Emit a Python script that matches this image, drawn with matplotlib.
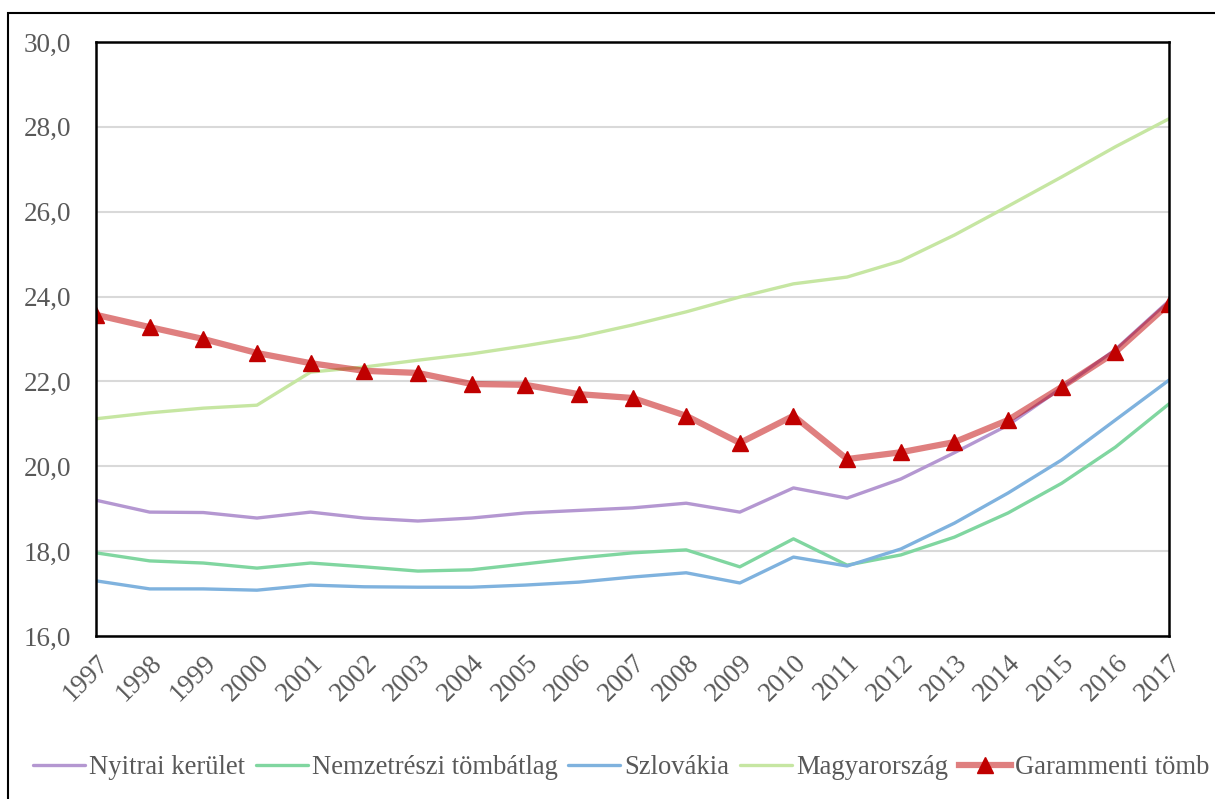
import matplotlib.pyplot as plt
from matplotlib.patches import Rectangle

years = list(range(1997, 2018))

nyitrai = [19.20, 18.92, 18.91, 18.78, 18.92, 18.78, 18.71, 18.78, 18.90, 18.96, 19.02,
           19.13, 18.92, 19.49, 19.25, 19.70, 20.32, 20.97, 21.85, 22.75, 23.90]
nemzet = [17.96, 17.77, 17.72, 17.60, 17.72, 17.63, 17.53, 17.56, 17.70, 17.84, 17.96,
          18.03, 17.63, 18.29, 17.67, 17.91, 18.33, 18.90, 19.60, 20.45, 21.47]
szlovakia = [17.30, 17.11, 17.11, 17.08, 17.20, 17.16, 17.15, 17.15, 17.20, 17.27, 17.39,
             17.49, 17.25, 17.86, 17.65, 18.05, 18.66, 19.37, 20.15, 21.09, 22.03]
magyar = [21.12, 21.26, 21.37, 21.44, 22.22, 22.34, 22.50, 22.65, 22.84, 23.05, 23.33,
          23.64, 23.99, 24.30, 24.46, 24.84, 25.45, 26.13, 26.82, 27.53, 28.19]
garam = [23.57, 23.28, 23.00, 22.67, 22.43, 22.25, 22.20, 21.94, 21.92, 21.70, 21.61,
         21.19, 20.55, 21.19, 20.17, 20.33, 20.57, 21.09, 21.87, 22.69, 23.83]

labels = ['Nyitrai kerület', 'Nemzetrészi tömbátlag', 'Szlovákia', 'Magyarország', 'Garammenti tömb']

plt.rcParams['font.family'] = ['Liberation Serif', 'DejaVu Serif']
txt = '#595959'

fig = plt.figure(figsize=(12.15, 7.99), dpi=100)
ax = fig.add_axes([96 / 1215, 163 / 799, 1073 / 1215, 594 / 799])

ax.plot(years, nyitrai, color='#b497d1', lw=2.4, label=labels[0], solid_capstyle='round')
ax.plot(years, nemzet, color='#80d6a0', lw=2.4, label=labels[1], solid_capstyle='round')
ax.plot(years, szlovakia, color='#7fb2de', lw=2.4, label=labels[2], solid_capstyle='round')
ax.plot(years, magyar, color='#c6e6a2', lw=2.4, label=labels[3], solid_capstyle='round')
ax.plot(years, garam, color=(0.753, 0, 0, 0.5), lw=4.5, marker='^', markersize=12,
        markerfacecolor='#c00000', markeredgecolor='#c00000', label=labels[4])

ax.set_xlim(1997, 2017)
ax.set_ylim(16, 30)
ax.set_yticks(range(16, 31, 2))
ax.set_yticklabels(['%d,0' % v for v in range(16, 31, 2)])
ax.set_xticks(years)
ax.set_xticklabels([str(y) for y in years], rotation=45, ha='right', va='top',
                   rotation_mode='anchor')
ax.tick_params(axis='both', length=0, labelsize=19.5, labelcolor=txt)
ax.tick_params(axis='y', pad=18)
ax.tick_params(axis='x', pad=10)
ax.grid(axis='y', color='#d9d9d9', lw=1.5)
ax.set_axisbelow(True)
for s in ax.spines.values():
    s.set_color('black')
    s.set_linewidth(1.8)

leg = fig.legend(loc='center left', bbox_to_anchor=(33 / 1215, 31 / 799), ncol=5,
                 frameon=False, fontsize=19.2, handlelength=1.95, handletextpad=0.15,
                 columnspacing=0.4, borderaxespad=0, borderpad=0)
for t in leg.get_texts():
    t.set_color(txt)

fig.patches.append(Rectangle((8 / 1215, -0.01), 1.02, 1 - 12.5 / 799 + 0.01,
                             transform=fig.transFigure, fill=False, ec='black', lw=1.5))

fig.savefig('out.png', dpi=100)
